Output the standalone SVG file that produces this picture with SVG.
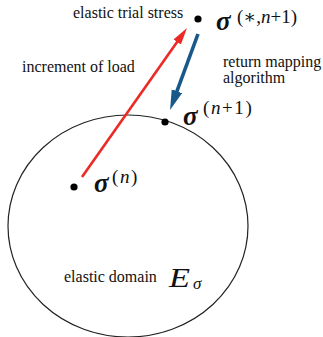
<svg xmlns="http://www.w3.org/2000/svg" width="323" height="337" viewBox="0 0 323 337">
<style>
text{font-family:'Liberation Serif','Times New Roman','DejaVu Serif',serif;fill:#111}
.lbl{font-size:16px}
.sig{font-size:27px;font-weight:bold;font-style:italic}
.sup{font-size:19px}
.wide{letter-spacing:1.6px}
.it{font-style:italic}
.dot{fill:#000}
</style>
<defs>
<marker id="ahRed" markerUnits="userSpaceOnUse" markerWidth="18" markerHeight="10" refX="1" refY="4.5" orient="auto">
<path d="M0,0 L17,4.5 L0,9 Z" fill="#ec2a25"/>
</marker>
<marker id="ahBlue" markerUnits="userSpaceOnUse" markerWidth="21" markerHeight="12" refX="1" refY="5.5" orient="auto">
<path d="M0,0 L20,5.5 L0,11 Z" fill="#19598a"/>
</marker>
</defs>
<rect width="323" height="337" fill="#fff"/>
<g id="domain">
<ellipse cx="128" cy="226" rx="120" ry="111" fill="none" stroke="#222" stroke-width="1.2"/>
<text class="lbl" x="64" y="282">elastic domain</text>
<text x="169" y="287" font-size="27" font-style="italic" textLength="21" lengthAdjust="spacingAndGlyphs">E</text>
<text x="193" y="289" font-size="17" font-style="italic">σ</text>
</g>
<g id="connectors">
<line x1="82" y1="177" x2="177.8" y2="41.1" stroke="#ec2a25" stroke-width="2.6" marker-end="url(#ahRed)"/>
<line x1="198" y1="34" x2="176.6" y2="92.2" stroke="#19598a" stroke-width="3.6" marker-end="url(#ahBlue)"/>
<text class="lbl" x="22" y="72">increment of load</text>
<text class="lbl" x="223" y="67">return mapping</text>
<text class="lbl" x="223" y="83">algorithm</text>
</g>
<g id="sigma-n">
<circle class="dot" cx="74" cy="187" r="3.6"/>
<text class="sig" x="94" y="192">σ</text>
<text class="sup wide" x="112" y="183">(<tspan class="it">n</tspan>)</text>
</g>
<g id="sigma-n1">
<circle class="dot" cx="165" cy="122" r="3.6"/>
<text class="sig" x="183" y="125">σ</text>
<text class="sup wide" x="203" y="114">(<tspan class="it">n</tspan>+1)</text>
</g>
<g id="sigma-trial">
<circle class="dot" cx="198" cy="19" r="3.6"/>
<text class="lbl" x="73" y="18">elastic trial stress</text>
<text class="sig" x="216" y="30">σ</text>
<text class="sup" x="237" y="23">(∗,<tspan class="it">n</tspan>+1)</text>
</g>
</svg>
